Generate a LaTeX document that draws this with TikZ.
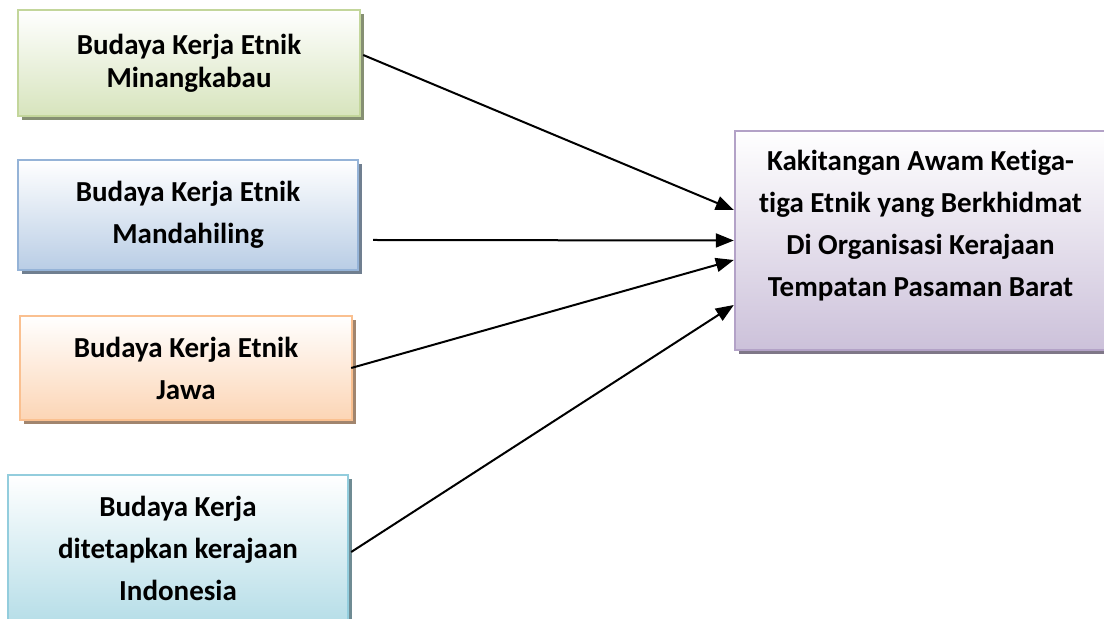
\documentclass[tikz,border=0pt]{standalone}
\usepackage{fontspec}
\setmainfont{Carlito}[Ligatures=CommonOff]
\usetikzlibrary{arrows.meta,shadows}
\definecolor{minangline}{HTML}{C3D69B}
\definecolor{minangfill}{HTML}{D7E4BD}
\definecolor{mandahline}{HTML}{95B3D7}
\definecolor{mandahfill}{HTML}{B9CDE5}
\definecolor{jawaline}{HTML}{FAC090}
\definecolor{jawafill}{HTML}{FCD5B5}
\definecolor{indoline}{HTML}{93CDDD}
\definecolor{indofill}{HTML}{B7DEE8}
\definecolor{staffline}{HTML}{B3A2C7}
\definecolor{stafffill}{HTML}{CCC1DA}

\begin{document}
\begin{tikzpicture}[x=0.5pt, y=-0.5pt,
    every node/.style={font=\fontsize{14.5}{21}\selectfont\bfseries, align=center, inner sep=0pt},
    box/.style 2 args={draw=#1, line width=1.2pt, top color=white, bottom color=#2,
        drop shadow={shadow xshift=2pt, shadow yshift=-2pt, opacity=1, fill=#1!60!gray!80!black}},
    link/.style={-{Triangle[length=9pt,width=7pt]}, line width=1pt}]
    \path[use as bounding box, clip] (0,0) rectangle (1104,619);

    \node[box={minangline}{minangfill}, minimum width=171pt, minimum height=53pt,
          font=\fontsize{14.5}{16.5}\selectfont\bfseries] (minang) at (189,63)
        {Budaya Kerja Etnik\\Minangkabau};
    \node[box={mandahline}{mandahfill}, minimum width=170pt, minimum height=55pt] (mandah) at (188,215)
        {Budaya Kerja Etnik\\Mandahiling};
    \node[box={jawaline}{jawafill}, minimum width=166pt, minimum height=52pt] (jawa) at (186,368)
        {Budaya Kerja Etnik\\Jawa};
    \node[box={indoline}{indofill}, minimum width=170pt, minimum height=73pt] (indo) at (178,548)
        {Budaya Kerja\\ditetapkan kerajaan\\Indonesia};
    \node[box={staffline}{stafffill}, minimum width=185.5pt, minimum height=109.5pt, text depth=17pt] (staff) at (920.5,240.5)
        {Kakitangan Awam Ketiga-\\tiga Etnik yang Berkhidmat\\Di Organisasi Kerajaan\\Tempatan Pasaman Barat};

    \draw[link] ([xshift=1pt, yshift=4pt]minang.east) -- ([yshift=15.25pt]staff.west);
    \draw[link] ([xshift=7pt, yshift=-12.5pt]mandah.east) -- (staff.west);
    \draw[link] ([xshift=-1pt]jawa.east) -- ([yshift=-9.75pt]staff.west);
    \draw[link] ([xshift=1pt, yshift=-2pt]indo.east) -- ([yshift=-32.25pt]staff.west);
\end{tikzpicture}
\end{document}
